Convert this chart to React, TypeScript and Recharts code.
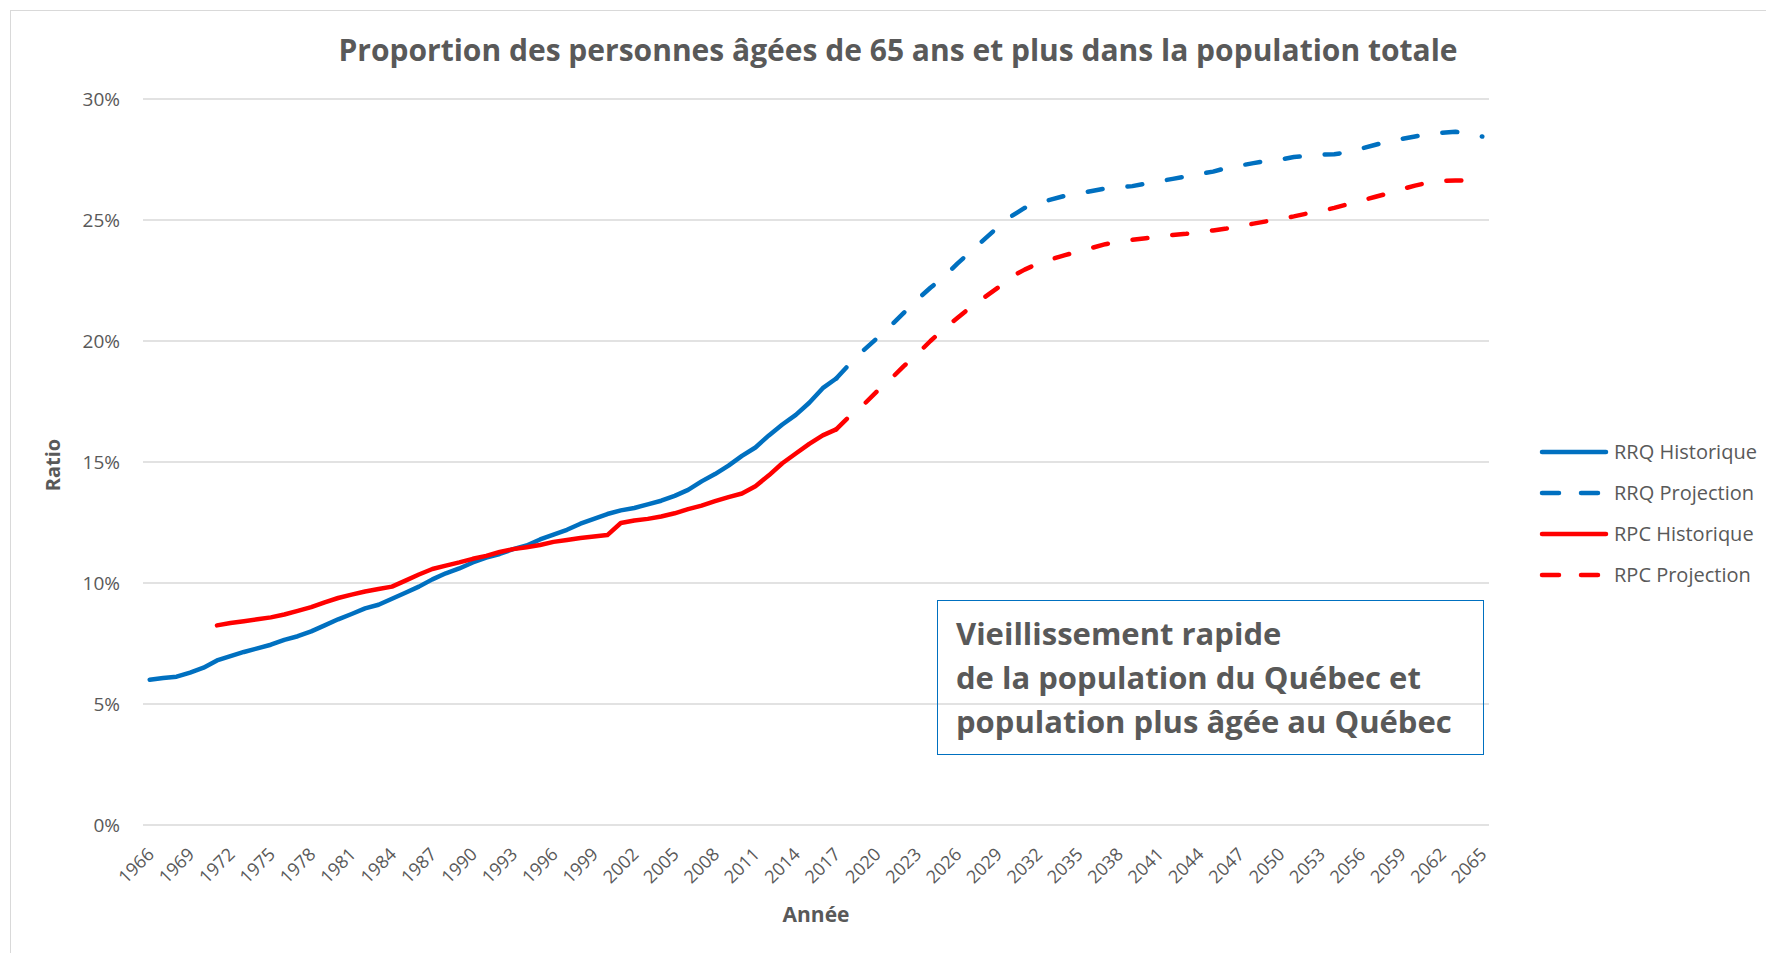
import React from "react";
import { LineChart, Line, XAxis, YAxis, CartesianGrid } from "recharts";

const FONT = "'Open Sans', sans-serif";
const GRAY = "#595959";
const BLUE = "#0070C0";
const RED = "#FF0000";

const YEARS = Array.from({ length: 100 }, (_, i) => 1966 + i);

// RRQ historique 1966-2017
const RRQ_HIST = [
  6.0, 6.07, 6.13, 6.3, 6.5, 6.8, 6.98, 7.15, 7.3, 7.45,
  7.65, 7.8, 8.0, 8.25, 8.5, 8.72, 8.95, 9.1, 9.35, 9.6,
  9.85, 10.15, 10.4, 10.6, 10.85, 11.05, 11.2, 11.4, 11.55, 11.8,
  12.0, 12.2, 12.45, 12.65, 12.85, 13.0, 13.1, 13.25, 13.4, 13.6,
  13.85, 14.2, 14.5, 14.85, 15.25, 15.6, 16.1, 16.55, 16.95, 17.45,
  18.05, 18.45,
];

// RRQ projection 2017-2065
const RRQ_PROJ = [
  18.45, 19.05, 19.6, 20.1, 20.6, 21.15, 21.7, 22.2, 22.65, 23.2,
  23.7, 24.2, 24.7, 25.15, 25.5, 25.7, 25.85, 26.0, 26.1, 26.2,
  26.3, 26.35, 26.4, 26.5, 26.6, 26.7, 26.8, 26.9, 27.0, 27.15,
  27.25, 27.35, 27.45, 27.5, 27.6, 27.65, 27.7, 27.72, 27.8, 27.95,
  28.1, 28.25, 28.35, 28.45, 28.55, 28.6, 28.65, 28.55, 28.45,
];

// RPC historique 1971-2017
const RPC_HIST = [
  8.25, 8.35, 8.42, 8.5, 8.58, 8.7, 8.85, 9.0, 9.2, 9.38,
  9.52, 9.65, 9.75, 9.85, 10.1, 10.35, 10.58, 10.72, 10.85, 11.0,
  11.12, 11.28, 11.4, 11.48, 11.57, 11.7, 11.78, 11.86, 11.92, 11.98,
  12.48, 12.58, 12.65, 12.75, 12.88, 13.05, 13.2, 13.38, 13.55, 13.7,
  14.0, 14.45, 14.95, 15.35, 15.75, 16.1, 16.35,
];

// RPC projection 2017-2065
const RPC_PROJ = [
  16.35, 16.9, 17.35, 17.9, 18.4, 18.95, 19.45, 20.0, 20.5, 20.95,
  21.4, 21.8, 22.2, 22.65, 22.95, 23.2, 23.38, 23.55, 23.7, 23.85,
  24.0, 24.1, 24.18, 24.25, 24.32, 24.38, 24.43, 24.5, 24.57, 24.65,
  24.75, 24.85, 24.95, 25.05, 25.15, 25.27, 25.37, 25.5, 25.65, 25.8,
  25.95, 26.1, 26.27, 26.42, 26.55, 26.62, 26.63, 26.63, 26.65,
];

const Y_TICKS = [0, 5, 10, 15, 20, 25, 30];

const SERIES = [
  { key: "rrqHist", name: "RRQ Historique", color: BLUE, dash: undefined },
  { key: "rrqProj", name: "RRQ Projection", color: BLUE, dash: "15 25" },
  { key: "rpcHist", name: "RPC Historique", color: RED, dash: undefined },
  { key: "rpcProj", name: "RPC Projection", color: RED, dash: "15 25" },
];

const pick = (arr: number[], start: number, year: number) => {
  const i = year - start;
  return i >= 0 && i < arr.length ? arr[i] : null;
};

const data = YEARS.map((year) => ({
  year,
  rrqHist: pick(RRQ_HIST, 1966, year),
  rrqProj: pick(RRQ_PROJ, 2017, year),
  rpcHist: pick(RPC_HIST, 1971, year),
  rpcProj: pick(RPC_PROJ, 2017, year),
}));

const XTick = ({ x, y, payload }: any) => (
  <g transform={`translate(${x + 1},${y + 26})`}>
    <text
      textAnchor="end"
      transform="rotate(-45)"
      dy="0.35em"
      fontSize={18}
      fontFamily={FONT}
      fill={GRAY}
    >
      {payload.value}
    </text>
  </g>
);

export default function App() {
  return (
    <div
      style={{
        position: "absolute",
        left: 0,
        top: 0,
        width: 1766,
        height: 953,
        background: "#fff",
        overflow: "hidden",
        fontFamily: FONT,
      }}
    >
      <div
        style={{
          position: "absolute",
          left: 10,
          top: 10,
          width: 1800,
          height: 1000,
          borderLeft: "1.5px solid #d9d9d9",
          borderTop: "1.5px solid #d9d9d9",
        }}
      />
      <div
        style={{
          position: "absolute",
          left: 0,
          width: 1796,
          top: 29,
          textAlign: "center",
          fontSize: 30,
          fontWeight: 700,
          color: GRAY,
          whiteSpace: "nowrap",
        }}
      >
        Proportion des personnes âgées de 65 ans et plus dans la population totale
      </div>
      <div
        style={{
          position: "absolute",
          left: 52,
          top: 465,
          transform: "translate(-50%, -50%) rotate(-90deg)",
          fontSize: 20,
          fontWeight: 700,
          color: GRAY,
        }}
      >
        Ratio
      </div>
      <div
        style={{
          position: "absolute",
          left: 816,
          top: 914,
          transform: "translate(-50%, -50%)",
          fontSize: 21,
          fontWeight: 700,
          color: GRAY,
        }}
      >
        Année
      </div>
      <div style={{ position: "absolute", left: 0, top: 0 }}>
        <LineChart
          width={1766}
          height={953}
          data={data}
          margin={{ top: 99, right: 277, bottom: 48, left: 0 }}
        >
          <CartesianGrid
            vertical={false}
            stroke="#d9d9d9"
            strokeWidth={1.5}
          />
          <XAxis
            dataKey="year"
            interval={2}
            axisLine={false}
            tickLine={false}
            tickSize={0}
            tickMargin={0}
            height={80}
            padding={{ left: 6.7, right: 6.7 }}
            tick={<XTick />}
          />
          <YAxis
            domain={[0, 30]}
            ticks={Y_TICKS}
            width={143}
            axisLine={false}
            tickLine={false}
            tickSize={0}
            tickMargin={23}
            tickFormatter={(v: number) => `${v}%`}
            tick={{ fontSize: 19, fill: GRAY, fontFamily: FONT }}
          />
          {SERIES.map((s) => (
            <Line
              key={s.key}
              type="linear"
              dataKey={s.key}
              name={s.name}
              stroke={s.color}
              strokeWidth={4.5}
              strokeDasharray={s.dash}
              strokeLinecap="round"
              strokeLinejoin="round"
              dot={false}
              activeDot={false}
              connectNulls={false}
              isAnimationActive={false}
            />
          ))}
        </LineChart>
      </div>
      <div style={{ position: "absolute", left: 1538, top: 431 }}>
        {SERIES.map((s) => (
          <div
            key={s.key}
            style={{ display: "flex", alignItems: "center", height: 41 }}
          >
            <svg width={76} height={10}>
              <line
                x1={4}
                x2={68}
                y1={5}
                y2={5}
                stroke={s.color}
                strokeWidth={4.5}
                strokeLinecap="round"
                strokeDasharray={s.dash ? "17 22" : undefined}
              />
            </svg>
            <span style={{ fontSize: 20, color: GRAY, whiteSpace: "nowrap" }}>
              {s.name}
            </span>
          </div>
        ))}
      </div>
      <div
        style={{
          position: "absolute",
          left: 937,
          top: 600,
          width: 547,
          height: 155,
          boxSizing: "border-box",
          border: `1.5px solid ${BLUE}`,
          padding: "10px 0 0 18px",
          fontSize: 31,
          lineHeight: "44px",
          fontWeight: 700,
          color: GRAY,
          whiteSpace: "nowrap",
        }}
      >
        Vieillissement rapide
        <br />
        de la population du Québec et
        <br />
        population plus âgée au Québec
      </div>
    </div>
  );
}
